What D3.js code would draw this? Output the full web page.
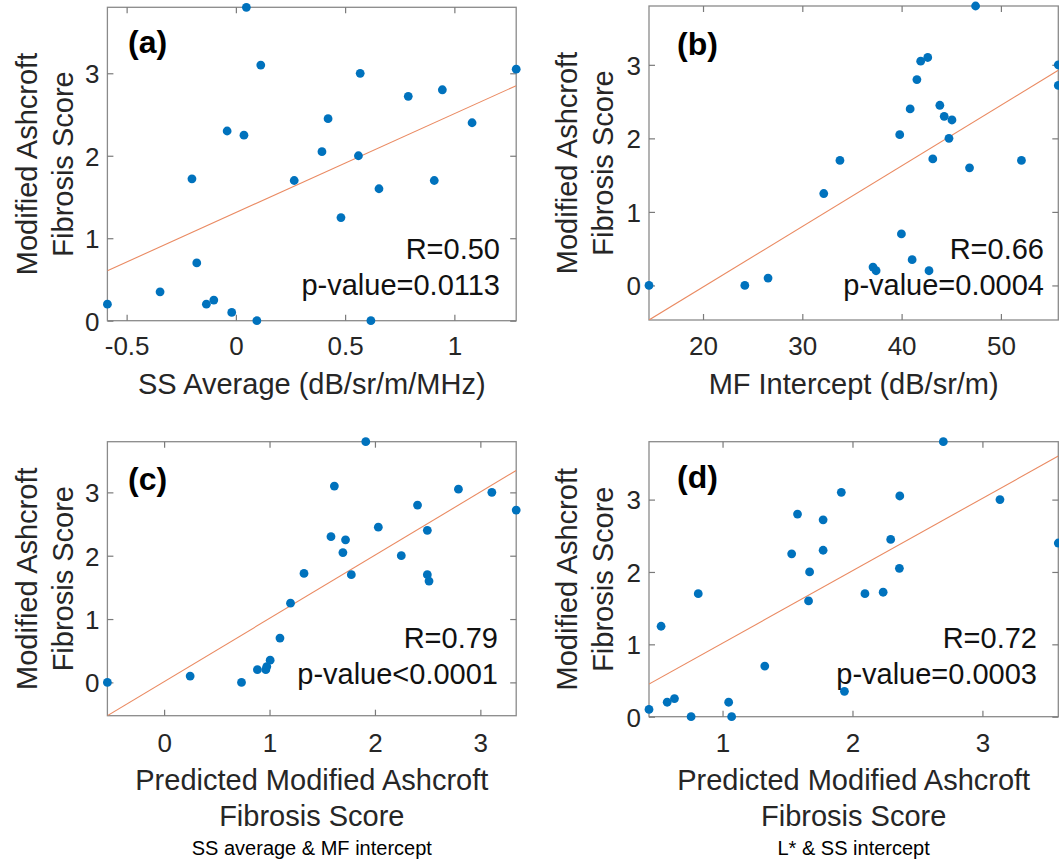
<!DOCTYPE html>
<html>
<head>
<meta charset="utf-8">
<script src="https://cdn.jsdelivr.net/npm/d3@7"></script>
<style>
    body { margin: 0; background: #fff; }
    svg text { font-family: "Liberation Sans", Arial, sans-serif; fill: #262626; }
</style>
</head>
<body>
<div id="chart"></div>
<script>
// ---- data ----
// (a) SS average vs score
const ssAverage = [-0.588, -0.347, -0.201, -0.179, -0.135, -0.101, -0.04, -0.019, 0.037, 0.048, 0.096, 0.114, 0.267,
    0.394, 0.422, 0.481, 0.561, 0.569, 0.618, 0.655, 0.789, 0.908, 0.945, 1.081, 1.283]
const scoreA = [0.2, 0.35, 1.72, 0.7, 0.2, 0.25, 2.3, 0.1, 2.25, 3.8, 0, 3.1, 1.7,
    2.05, 2.45, 1.25, 2.0, 3.0, 0, 1.6, 2.72, 1.7, 2.8, 2.4, 3.05]

// (b) MF intercept vs score
const mfIntercept = [14.56, 24.21, 26.55, 32.16, 33.79, 37.12, 37.43, 39.81, 39.98, 40.86, 41.06, 41.54, 41.92,
    42.63, 42.76, 43.14, 43.85, 44.29, 44.77, 45.07, 46.84, 47.45, 52.07, 55.78, 55.78]
const scoreB = [0, 0, 0.1, 1.25, 1.7, 0.25, 0.2, 2.05, 0.7, 2.4, 0.35, 2.8, 3.05,
    3.1, 0.2, 1.72, 2.45, 2.3, 2.0, 2.25, 1.6, 3.8, 1.7, 3.0, 2.72]

// (c) predicted (SS average & MF intercept) vs score
const predictedC = [-0.538, 0.247, 0.734, 0.885, 0.965, 0.974, 1.006, 1.099, 1.199, 1.327, 1.583, 1.615, 1.696,
    1.721, 1.776, 1.913, 2.032, 2.25, 2.404, 2.497, 2.497, 2.513, 2.792, 3.109, 3.34]
const scoreC = [0, 0.1, 0, 0.2, 0.2, 0.25, 0.35, 0.7, 1.25, 1.72, 2.3, 3.1, 2.05,
    2.25, 1.7, 3.8, 2.45, 2.0, 2.8, 2.4, 1.7, 1.6, 3.05, 3.0, 2.72]

// (d) predicted (L* & SS intercept) vs score
const predictedD = [0.434, 0.527, 0.574, 0.63, 0.758, 0.813, 1.047, 1.07, 1.325, 1.532, 1.577, 1.662, 1.67,
    1.774, 1.774, 1.914, 1.938, 2.096, 2.236, 2.294, 2.364, 2.361, 2.699, 3.135, 3.584]
const scoreD = [0.1, 1.25, 0.2, 0.25, 0, 1.7, 0.2, 0, 0.7, 2.25, 2.8, 1.6, 2.0,
    2.72, 2.3, 3.1, 0.35, 1.7, 1.72, 2.45, 3.05, 2.05, 3.8, 3.0, 2.4]

// fitted lines [intercept, slope]
const fitA = [1.311, 1.199]
const fitB = [-1.670, 0.0824]
const fitC = [0.012, 0.998]
const fitD = [0.017, 1.0]

// ticks
const scoreTicks = [0, 1, 2, 3]
const ticksA = [-0.5, 0, 0.5, 1]
const tickLabelsA = ["-0.5", "0", "0.5", "1"]
const ticksB = [20, 30, 40, 50]
const tickLabelsB = ["20", "30", "40", "50"]
const ticksC = [0, 1, 2, 3]
const tickLabelsC = ["0", "1", "2", "3"]
const ticksD = [1, 2, 3]
const tickLabelsD = ["1", "2", "3"]

// stats text
const statsA = ["R=0.50", "p-value=0.0113"]
const statsB = ["R=0.66", "p-value=0.0004"]
const statsC = ["R=0.79", "p-value<0.0001"]
const statsD = ["R=0.72", "p-value=0.0003"]

const yTitle = ["Modified Ashcroft", "Fibrosis Score"]

/* * * * * * * * * * * * * *
*    class ScatterPanel     *
* * * * * * * * * * * * * */

class ScatterPanel {
    constructor(svg, cfg) {
        this.svg = svg
        this.cfg = cfg
        this.initVis()
    }

    initVis() {
        let vis = this
        let c = vis.cfg

        vis.width = c.box.right - c.box.left
        vis.height = c.box.bottom - c.box.top

        vis.g = vis.svg.append('g')
            .attr('transform', `translate(${c.box.left}, ${c.box.top})`)

        vis.x = d3.scaleLinear().domain(c.xDomain).range([0, vis.width])
        vis.y = d3.scaleLinear().domain(c.yDomain).range([vis.height, 0])

        vis.g.append('clipPath').attr('id', 'clip-' + c.id)
            .append('rect').attr('width', vis.width).attr('height', vis.height)

        vis.wrangleData()
    }

    wrangleData() {
        let vis = this
        vis.displayData = vis.cfg.xs.map((d, i) => ({x: d, y: vis.cfg.ys[i]}))
        vis.updateVis()
    }

    updateVis() {
        let vis = this
        let c = vis.cfg
        let tickCol = '#7a7a7a'

        // frame
        vis.g.append('rect')
            .attr('width', vis.width)
            .attr('height', vis.height)
            .attr('fill', 'none')
            .attr('stroke', '#8a8a8a')
            .attr('stroke-width', 1.3)

        // axes (ticks inward, mirrored on all sides)
        let bottom = vis.g.append('g').attr('transform', `translate(0, ${vis.height})`)
            .call(d3.axisBottom(vis.x).tickValues(c.xTicks).tickFormat((d, i) => c.xTickLabels[i])
                .tickSizeInner(-6).tickSizeOuter(0))
        let top = vis.g.append('g')
            .call(d3.axisTop(vis.x).tickValues(c.xTicks).tickFormat('').tickSizeInner(-6).tickSizeOuter(0))
        let left = vis.g.append('g')
            .call(d3.axisLeft(vis.y).tickValues(scoreTicks).tickFormat(d3.format('d'))
                .tickSizeInner(-6).tickSizeOuter(0))
        let right = vis.g.append('g').attr('transform', `translate(${vis.width}, 0)`)
            .call(d3.axisRight(vis.y).tickValues(scoreTicks).tickFormat('').tickSizeInner(-6).tickSizeOuter(0))

        ;[bottom, top, left, right].forEach(a => {
            a.select('.domain').remove()
            a.selectAll('line').attr('stroke', tickCol).attr('stroke-width', 1.2)
        })
        bottom.selectAll('text')
            .attr('dy', null)
            .attr('y', c.xTickBase - c.box.bottom)
            .attr('font-size', 26)
            .attr('font-family', null)
        left.selectAll('text')
            .attr('x', -8)
            .attr('dy', '0.36em')
            .attr('font-size', 26)
            .attr('font-family', null)

        // fit line
        vis.g.append('path')
            .datum(c.xDomain)
            .attr('clip-path', `url(#clip-${c.id})`)
            .attr('fill', 'none')
            .attr('stroke', '#ea8a62')
            .attr('stroke-width', 1.1)
            .attr('d', d3.line()
                .x(d => vis.x(d))
                .y(d => vis.y(c.fit[0] + c.fit[1] * d)))

        // points
        vis.g.selectAll('.dot')
            .data(vis.displayData)
            .enter().append('circle')
            .attr('class', 'dot')
            .attr('cx', d => vis.x(d.x))
            .attr('cy', d => vis.y(d.y))
            .attr('r', 4.4)
            .attr('fill', '#0072BD')

        // panel letter
        vis.svg.append('text')
            .attr('x', c.letterPos[0])
            .attr('y', c.letterPos[1])
            .attr('font-size', 32)
            .attr('font-weight', 'bold')
            .style('fill', '#000')
            .text(c.letter)

        // R and p text
        c.stats.forEach((s, i) => {
            vis.svg.append('text')
                .attr('x', c.statsPos[0])
                .attr('y', c.statsPos[1] + i * 36)
                .attr('text-anchor', 'end')
                .attr('font-size', 29)
                .style('fill', '#111')
                .text(s)
        })

        // y title
        let yt = vis.svg.append('g')
            .attr('transform', `translate(${c.yTitleX}, ${(c.box.top + c.box.bottom) / 2}) rotate(-90)`)
        yTitle.forEach((t, i) => {
            yt.append('text')
                .attr('x', 0)
                .attr('y', i * 36)
                .attr('text-anchor', 'middle')
                .attr('font-size', 29)
                .text(t)
        })

        // x title (+ optional caption)
        let cx = (c.box.left + c.box.right) / 2
        c.xTitle.forEach((t, i) => {
            vis.svg.append('text')
                .attr('x', cx)
                .attr('y', c.xTitleBase + i * 36)
                .attr('text-anchor', 'middle')
                .attr('font-size', 29)
                .text(t)
        })
        if (c.caption) {
            vis.svg.append('text')
                .attr('x', cx)
                .attr('y', c.captionBase)
                .attr('text-anchor', 'middle')
                .attr('font-size', 20)
                .style('fill', '#000')
                .text(c.caption)
        }
    }
}

let svg = d3.select('#chart').append('svg')
    .attr('width', 1059)
    .attr('height', 865)

new ScatterPanel(svg, {
    id: 'a', letter: '(a)', xs: ssAverage, ys: scoreA, fit: fitA, stats: statsA,
    box: {left: 107.4, top: 7.3, right: 516.2, bottom: 320.7},
    xDomain: [-0.588, 1.283], yDomain: [0, 3.8],
    xTicks: ticksA, xTickLabels: tickLabelsA, xTickBase: 355,
    letterPos: [128, 53], statsPos: [500, 259], yTitleX: 37,
    xTitle: ["SS Average (dB/sr/m/MHz)"], xTitleBase: 394
})

new ScatterPanel(svg, {
    id: 'b', letter: '(b)', xs: mfIntercept, ys: scoreB, fit: fitB, stats: statsB,
    box: {left: 649, top: 6, right: 1058.3, bottom: 320},
    xDomain: [14.56, 55.78], yDomain: [-0.47, 3.8],
    xTicks: ticksB, xTickLabels: tickLabelsB, xTickBase: 355,
    letterPos: [677, 55], statsPos: [1044, 259], yTitleX: 577,
    xTitle: ["MF Intercept (dB/sr/m)"], xTitleBase: 394
})

new ScatterPanel(svg, {
    id: 'c', letter: '(c)', xs: predictedC, ys: scoreC, fit: fitC, stats: statsC,
    box: {left: 107.4, top: 441.7, right: 516.2, bottom: 715.7},
    xDomain: [-0.538, 3.34], yDomain: [-0.526, 3.8],
    xTicks: ticksC, xTickLabels: tickLabelsC, xTickBase: 752,
    letterPos: [128, 490], statsPos: [498, 648], yTitleX: 37,
    xTitle: ["Predicted Modified Ashcroft", "Fibrosis Score"], xTitleBase: 790,
    caption: "SS average & MF intercept", captionBase: 855
})

new ScatterPanel(svg, {
    id: 'd', letter: '(d)', xs: predictedD, ys: scoreD, fit: fitD, stats: statsD,
    box: {left: 649, top: 441.7, right: 1058.3, bottom: 716.7},
    xDomain: [0.434, 3.584], yDomain: [0, 3.8],
    xTicks: ticksD, xTickLabels: tickLabelsD, xTickBase: 752,
    letterPos: [677, 488], statsPos: [1037, 648], yTitleX: 577,
    xTitle: ["Predicted Modified Ashcroft", "Fibrosis Score"], xTitleBase: 790,
    caption: "L* & SS intercept", captionBase: 855
})
</script>
</body>
</html>
